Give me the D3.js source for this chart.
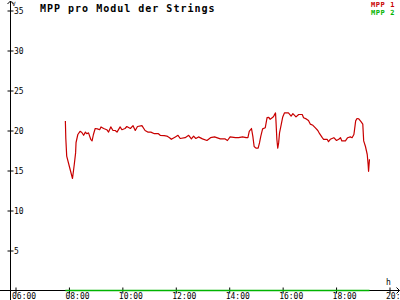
<!DOCTYPE html>
<html>
<head>
<meta charset="utf-8">
<script src="https://cdn.jsdelivr.net/npm/d3@7"></script>
<style>
  body { margin: 0; background: #fff; }
  svg { display: block; font-family: "DejaVu Sans Mono", monospace; }
</style>
</head>
<body>
<div id="chart-area"></div>
<script>
// data
var times = ["07:52","07:53","07:55","08:01","08:08","08:12","08:15","08:16","08:20","08:25",
  "08:29","08:33","08:37","08:40","08:44","08:49","08:52","08:55","08:59","09:04",
  "09:09","09:12","09:18","09:25","09:29","09:34","09:39","09:44","09:48","09:55",
  "09:59","10:06","10:10","10:18","10:24","10:29","10:34","10:44","10:51","10:57",
  "11:04","11:12","11:21","11:25","11:34","11:40","11:46","11:50","11:59","12:05",
  "12:10","12:21","12:29","12:35","12:40","12:45","12:51","13:00","13:10","13:18",
  "13:27","13:40","13:51","13:56","14:02","14:14","14:21","14:30","14:38","14:42",
  "14:45","14:50","14:53","14:56","15:00","15:05","15:08","15:11","15:15","15:21",
  "15:25","15:29","15:32","15:38","15:40","15:44","15:45","15:47","15:49","15:51",
  "15:53","15:57","16:00","16:04","16:13","16:19","16:23","16:30","16:36","16:44",
  "16:47","16:53","16:58","17:02","17:08","17:13","17:19","17:23","17:29","17:32",
  "17:40","17:43","17:47","17:55","18:01","18:06","18:10","18:13","18:21","18:26",
  "18:32","18:36","18:40","18:41","18:44","18:47","18:51","18:56","19:00","19:02",
  "19:06","19:10","19:12","19:13","19:15"];

var mpp1 = [21.2,19.0,16.8,15.5,14.0,15.75,17.2,18.5,19.5,19.9,
  19.75,19.4,19.8,19.6,19.7,18.9,18.7,19.5,20.25,20.2,
  20.1,20.45,20.25,20.1,19.8,20.45,20.0,20.0,19.8,20.45,
  20.1,20.25,20.5,20.25,20.6,20.0,20.5,20.6,20.0,19.8,
  19.8,19.6,19.6,19.4,19.35,19.3,19.1,18.9,19.2,19.4,
  19.0,19.1,19.4,18.95,19.3,19.0,19.2,18.95,18.75,19.1,
  19.2,18.95,18.95,18.75,19.2,19.1,19.1,19.2,19.1,19.1,
  19.9,20.25,19.3,18.0,17.8,17.8,18.45,19.3,20.2,20.35,
  21.6,21.65,21.4,21.65,21.8,22.2,21.2,18.9,17.8,18.45,
  19.7,20.8,21.65,22.2,22.2,21.8,22.1,21.7,22.0,22.0,
  21.6,21.45,21.25,20.8,20.65,20.35,20.0,19.6,19.1,18.9,
  18.9,18.6,18.9,19.1,18.75,18.9,19.1,18.7,18.7,19.1,
  19.2,19.1,19.5,19.9,21.2,21.5,21.45,21.1,20.8,18.7,
  18.0,17.0,15.75,14.9,16.4];

// MPP 2 stays at zero the whole day
var mpp2Times = ["07:52","19:15"];
var mpp2 = [0, 0];

var xTicks = ["06:00","08:00","10:00","12:00","14:00","16:00","18:00","20:00"];
var yTicks = [5,10,15,20,25,30,35];

var seriesNames = ["MPP 1","MPP 2"];
var seriesColors = ["#c80000","#00b400"];

var W = 400, H = 300;
var parseTime = d3.timeParse("%H:%M");

var svg = d3.select("#chart-area")
  .append("svg")
    .attr("width", W)
    .attr("height", H);

var x = d3.scaleTime()
  .domain([parseTime("06:00"), parseTime("20:00")])
  .range([15.5, 389.5]);

var y = d3.scaleLinear()
  .domain([0, 35])
  .range([290.5, 10.5]);

// x axis
var xAxis = svg.append("g")
  .attr("transform", "translate(0," + y(0) + ")")
  .call(d3.axisBottom(x)
    .tickValues(xTicks.map(parseTime))
    .tickFormat(d3.timeFormat("%H:%M"))
    .tickSizeOuter(0));
xAxis.select(".domain").remove();
xAxis.selectAll(".tick line").attr("y1", -3).attr("y2", 3).attr("stroke", "#000");
xAxis.selectAll(".tick text")
  .attr("y", 8).attr("dy", 0)
  .attr("dx", -4)
  .attr("text-anchor", "start")
  .attr("font-size", "8px")
  .attr("font-family", "DejaVu Sans Mono")
  .attr("fill", "#000");

// y axis
var yAxis = svg.append("g")
  .attr("transform", "translate(10.5,0)")
  .call(d3.axisLeft(y).tickValues(yTicks).tickSizeOuter(0));
yAxis.select(".domain").remove();
yAxis.selectAll(".tick line").attr("x1", -3).attr("x2", 3).attr("stroke", "#000");
yAxis.selectAll(".tick text")
  .attr("x", 3.5)
  .attr("text-anchor", "start")
  .attr("font-size", "8px")
  .attr("font-family", "DejaVu Sans Mono")
  .attr("fill", "#000");

// axis lines with arrows
svg.append("path")
  .attr("d", "M0," + y(0) + "H399.5M396.5," + (y(0) - 3) + "L399.5," + y(0) + "L396.5," + (y(0) + 3))
  .attr("fill", "none").attr("stroke", "#000");
svg.append("path")
  .attr("d", "M10.5,300V1M7.5,4L10.5,1L13.5,4")
  .attr("fill", "none").attr("stroke", "#000");

svg.append("text").attr("x", 12).attr("y", 5.5)
  .attr("font-size", "6px").text("V");
svg.append("text").attr("x", 386).attr("y", 284.5)
  .attr("font-size", "8px").text("h");

// lines
var line = d3.line()
  .x(function(d) { return x(d.t); })
  .y(function(d) { return y(d.v); });

var s2 = mpp2Times.map(function(t, i) { return {t: parseTime(t), v: mpp2[i]}; });
var s1 = times.map(function(t, i) { return {t: parseTime(t), v: mpp1[i]}; });

svg.append("path").datum(s2)
  .attr("d", line)
  .attr("fill", "none")
  .attr("stroke", seriesColors[1])
  .attr("stroke-width", 1.5);

svg.append("path").datum(s1)
  .attr("d", line)
  .attr("fill", "none")
  .attr("stroke", seriesColors[0])
  .attr("stroke-width", 1.2)
  .attr("stroke-linejoin", "round");

// title
svg.append("text")
  .attr("x", 40).attr("y", 11.5)
  .attr("font-size", "10px")
  .attr("font-weight", "bold")
  .attr("letter-spacing", "1px")
  .text("MPP pro Modul der Strings");

// legend
svg.selectAll(".legend")
  .data(seriesNames)
  .enter().append("text")
    .attr("class", "legend")
    .attr("x", 395)
    .attr("y", function(d, i) { return 7 + i * 7.5; })
    .attr("text-anchor", "end")
    .attr("font-size", "7px")
    .attr("letter-spacing", "0.6px")
    .attr("font-weight", "bold")
    .attr("fill", function(d, i) { return seriesColors[i]; })
    .text(function(d) { return d; });
</script>
</body>
</html>
